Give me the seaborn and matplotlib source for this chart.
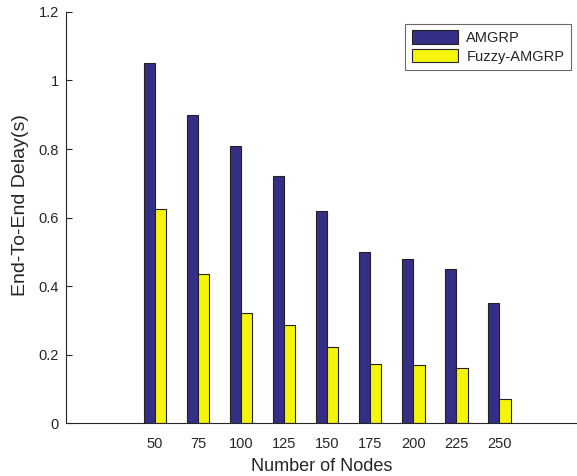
import matplotlib
matplotlib.use("Agg")
import matplotlib.pyplot as plt
import seaborn as sns
import pandas as pd

nodes = ["50", "75", "100", "125", "150", "175", "200", "225", "250"]
amgrp = [1.05, 0.90, 0.81, 0.72, 0.62, 0.50, 0.48, 0.45, 0.35]
fuzzy = [0.625, 0.435, 0.32, 0.285, 0.222, 0.172, 0.17, 0.16, 0.07]
series = ["AMGRP", "Fuzzy-AMGRP"]

df = pd.DataFrame({
    "Nodes": nodes * 2,
    "Delay": amgrp + fuzzy,
    "Protocol": [series[0]] * len(nodes) + [series[1]] * len(nodes),
})

sns.set_style("white")
plt.rcParams["font.family"] = ["Liberation Sans", "DejaVu Sans"]

fig = plt.figure(figsize=(5.77, 4.76), dpi=100)
ax = fig.add_axes([0.1144, 0.1113, 0.8856, 0.8635])

sns.barplot(data=df, x="Nodes", y="Delay", hue="Protocol", order=nodes,
            hue_order=series, palette=["#352e87", "#f5f50a"],
            width=0.54, gap=0.04, edgecolor="#222222", linewidth=0.8,
            saturation=1, ax=ax)

ax.set_xlim(-2.07, 9.81)
ax.set_ylim(0, 1.2)
ax.set_yticks([0, 0.2, 0.4, 0.6, 0.8, 1.0, 1.2])
ax.set_yticklabels(["0", "0.2", "0.4", "0.6", "0.8", "1", "1.2"])
ax.set_xlabel("Number of Nodes", fontsize=13, color="#262626", labelpad=5)
ax.set_ylabel("End-To-End Delay(s)", fontsize=14, color="#262626")
ax.yaxis.set_label_coords(-0.072, 0.53)
ax.tick_params(axis="both", direction="in", length=4, width=0.8,
               labelsize=10.5, colors="#262626", pad=5)
ax.tick_params(axis="x", length=3, pad=10)
ax.tick_params(bottom=True, left=True)

for s in ["top", "right"]:
    ax.spines[s].set_visible(False)
for s in ["left", "bottom"]:
    ax.spines[s].set_color("#262626")
    ax.spines[s].set_linewidth(0.8)

leg = ax.legend(loc="upper right", bbox_to_anchor=(0.988, 0.971),
                fontsize=10.5, frameon=True, fancybox=False,
                handlelength=3.2, handleheight=1.0, handletextpad=0.55,
                borderpad=0.45, labelspacing=0.3, borderaxespad=0)
leg.get_frame().set_edgecolor("#444444")
leg.get_frame().set_linewidth(0.8)

fig.savefig("out.png", dpi=100)
